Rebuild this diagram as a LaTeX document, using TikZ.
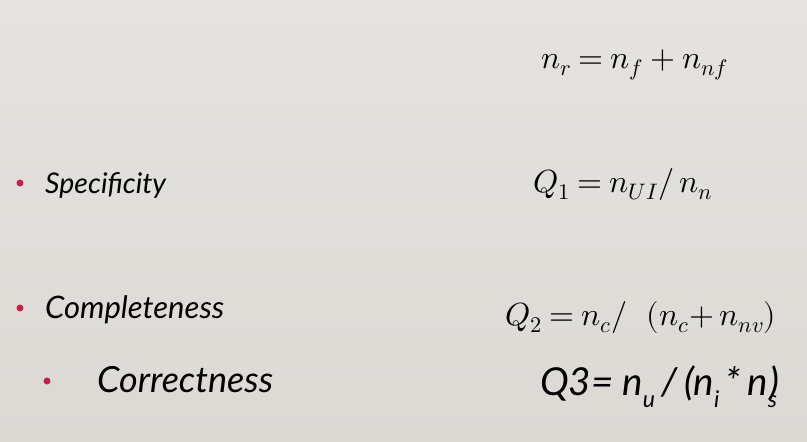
\documentclass[tikz,border=0pt]{standalone}
\usepackage{amsmath}
\usepackage{unicode-math}
\setsansfont{Lato}
\setmathfont{Latin Modern Math}
\definecolor{slidetop}{HTML}{E5E3DF}
\definecolor{slidemid}{HTML}{E7E5E1}
\definecolor{slidebot}{HTML}{DCD9D5}
\definecolor{bulletred}{HTML}{C8204A}
\tikzset{
    bullettext/.style={anchor=base west,inner sep=0pt,font=\sffamily\itshape\fontsize{28.5}{32}\selectfont},
    formula/.style={anchor=base west,inner sep=0pt,font=\fontsize{32}{36}\selectfont},
    bulletdot/.style={circle,fill=bulletred,inner sep=0pt,minimum size=7pt}
}
\newcommand{\tightmath}{\thickmuskip=4mu\relax}
\newcommand{\lowsub}[1]{\raisebox{-0.32em}{\fontsize{23}{23}\selectfont #1}}
\begin{document}
\begin{tikzpicture}[x=1pt,y=-1pt]
                \shade[top color=slidetop,middle color=slidemid,bottom color=slidebot] (0,0) rectangle (807,442);
                \useasboundingbox (0,0) rectangle (807,442);
                \node[bulletdot] (dot1) at (20,183) {};
                \node[bullettext] (specificity) at (45,193) {Specificity};
                \node[bulletdot] (dot2) at (20,308) {};
                \node[bullettext,font=\sffamily\itshape\fontsize{31}{34}\selectfont] (completeness) at (45,318) {Completeness};
                \node[bulletdot] (dot3) at (47,381) {};
                \node[bullettext,font=\sffamily\itshape\fontsize{36}{40}\selectfont] (correctness) at (97,392) {Correctness};
                \node[formula] (nr) at (541,68) {$\tightmath n_r = n_f + n_{nf}$};
                \node[formula] (q1) at (533,192) {$\tightmath Q_1 = n_{UI} / \, n_n$};
                \node[formula] (q2) at (505,325) {$\tightmath Q_2 = n_c / \;\;\, (n_c{+}\, n_{nv})$};
                \node[formula,font=\sffamily\itshape\fontsize{38.5}{40}\selectfont] (q3) at (540,395)
                    {Q3= n\lowsub{u}\,/\,(n\lowsub{i}\,*\,n\lowsub{s}\kern-0.2em)};
\end{tikzpicture}
\end{document}
